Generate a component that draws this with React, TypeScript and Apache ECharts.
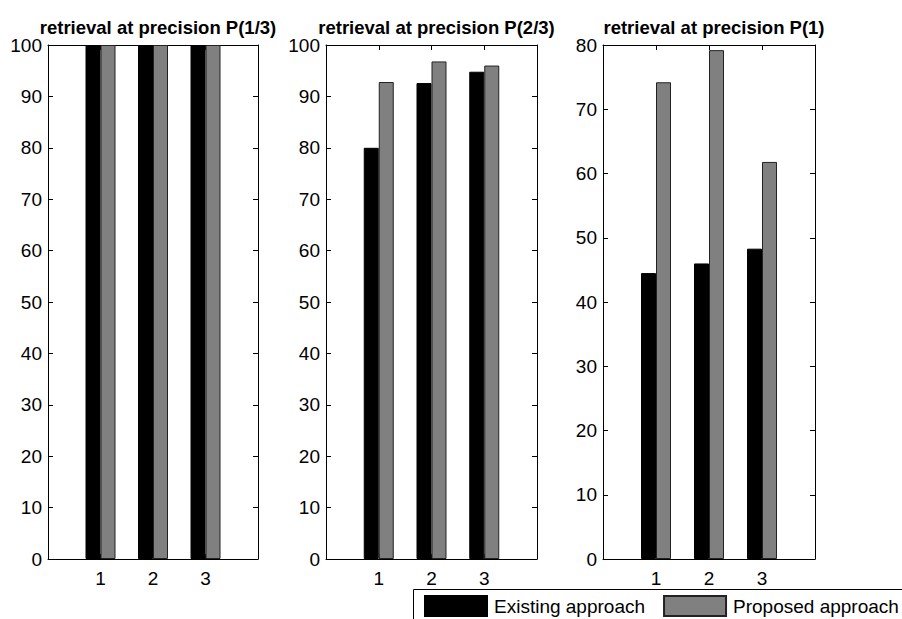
import React, { useEffect, useRef } from "react";
import * as echarts from "echarts";

const categories = [1, 2, 3];
const xTickLabels = ["1", "2", "3"];
const panelTitles = [
  "retrieval at precision P(1/3)",
  "retrieval at precision P(2/3)",
  "retrieval at precision P(1)",
];
const seriesNames = ["Existing approach", "Proposed approach"];
const existingP13 = [100, 100, 100];
const proposedP13 = [100, 100, 100];
const existingP23 = [80.0, 92.6, 94.8];
const proposedP23 = [92.8, 96.8, 96.0];
const existingP1 = [44.5, 46.0, 48.3];
const proposedP1 = [74.2, 79.2, 61.8];
const yMaxes = [100, 100, 80];

const FONT = "'Liberation Sans', Arial, Helvetica, sans-serif";

export default function App() {
  const ref = useRef<HTMLDivElement>(null);
  useEffect(() => {
    if (!ref.current) return;
    const chart = echarts.init(ref.current, null, { renderer: "svg" });
    const grids = [
      { left: 48, top: 45, width: 210, height: 514 },
      { left: 326, top: 45, width: 211, height: 514 },
      { left: 603, top: 45, width: 212, height: 514 },
    ];
    const existing = [existingP13, existingP23, existingP1];
    const proposed = [proposedP13, proposedP23, proposedP1];
    const lineStyle = { color: "#000", width: 1 };
    const xAxes: any[] = [];
    const yAxes: any[] = [];
    const series: any[] = [];
    grids.forEach((g, i) => {
      const xBase = {
        type: "value",
        gridIndex: i,
        min: 0,
        max: 4,
        interval: 1,
        axisLine: { show: true, onZero: false, lineStyle },
        axisTick: { show: true, inside: true, length: 5, lineStyle },
        splitLine: { show: false },
      };
      xAxes.push({
        ...xBase,
        position: "bottom",
        axisLabel: {
          show: true,
          margin: 10,
          color: "#000",
          fontSize: 19,
          fontFamily: FONT,
          formatter: (v: number) => {
            const idx = categories.indexOf(v);
            return idx >= 0 ? xTickLabels[idx] : "";
          },
        },
      });
      xAxes.push({ ...xBase, position: "top", axisLabel: { show: false } });
      const yBase = {
        type: "value",
        gridIndex: i,
        min: 0,
        max: yMaxes[i],
        interval: 10,
        axisLine: { show: true, onZero: false, lineStyle },
        axisTick: { show: true, inside: true, length: 5, lineStyle },
        splitLine: { show: false },
      };
      yAxes.push({
        ...yBase,
        position: "left",
        axisLabel: { show: true, margin: 6, color: "#000", fontSize: 19, fontFamily: FONT },
      });
      yAxes.push({ ...yBase, position: "right", axisLabel: { show: false } });
      series.push({
        type: "bar",
        name: seriesNames[0],
        xAxisIndex: 2 * i,
        yAxisIndex: 2 * i,
        barWidth: 15,
        barGap: "0%",
        itemStyle: { color: "#000", borderColor: "#000", borderWidth: 1 },
        data: categories.map((c, j) => [c, existing[i][j]]),
      });
      series.push({
        type: "bar",
        name: seriesNames[1],
        xAxisIndex: 2 * i,
        yAxisIndex: 2 * i,
        barWidth: 15,
        barGap: "0%",
        itemStyle: { color: "#808080", borderColor: "#222", borderWidth: 1 },
        data: categories.map((c, j) => [c, proposed[i][j]]),
      });
    });

    chart.setOption({
      animation: false,
      backgroundColor: "#fff",
      title: grids.map((g, i) => ({
        text: panelTitles[i],
        left: g.left + g.width / 2,
        top: 13,
        textAlign: "center",
        textStyle: { fontSize: 18.5, fontWeight: "bold", color: "#000", fontFamily: FONT },
      })),
      grid: grids.map((g) => ({ ...g, containLabel: false })),
      xAxis: xAxes,
      yAxis: yAxes,
      legend: {
        data: seriesNames,
        left: 419,
        top: 590,
        width: 900,
        itemWidth: 62,
        itemHeight: 20,
        itemGap: 18,
        icon: "rect",
        z: 10,
        textStyle: { fontSize: 19, color: "#000", fontFamily: FONT, padding: [0, 0, 0, 2] },
      },
      graphic: [
        {
          type: "rect",
          z: 1,
          shape: { x: 413.5, y: 589.5, width: 520, height: 60 },
          style: { fill: "#fff", stroke: "#000", lineWidth: 1 },
        },
      ],
      series,
    });
    return () => chart.dispose();
  }, []);
  return (
    <div
      ref={ref}
      style={{ position: "fixed", left: 0, top: 0, width: 902, height: 619 }}
    />
  );
}
